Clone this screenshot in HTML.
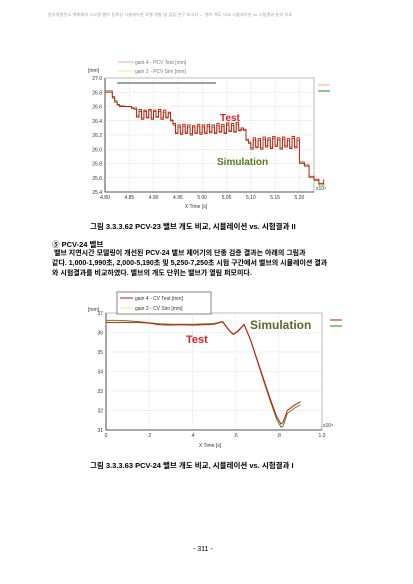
<!DOCTYPE html>
<html><head><meta charset="utf-8">
<style>
body{margin:0;background:#fff;width:413px;height:584px;overflow:hidden;position:relative;font-family:"Liberation Sans","Noto Sans CJK KR",sans-serif;}
.t{position:absolute;color:#000;white-space:nowrap;}
svg{position:absolute;left:0;top:0;}
</style></head><body>
<div class="t" style="left:48px;top:12px;font-size:4px;color:#999;letter-spacing:0.2px">원자력발전소 계측제어 시스템 밸브 동특성 시뮬레이션 모델 개발 및 검증 연구 보고서 — 밸브 계도 비교 시뮬레이션 vs 시험결과 분석 자료</div>
<div class="t" style="left:90px;top:221px;font-size:7.5px;font-weight:bold">그림 3.3.3.62 PCV-23 밸브 개도 비교, 시뮬레이션 vs. 시험결과 II</div>
<div class="t" style="left:52px;top:239px;font-size:7.5px;font-weight:bold">⑤ PCV-24 밸브</div>
<div class="t" style="left:52px;top:249px;font-size:7px;font-weight:bold;line-height:10px">&nbsp;밸브 지연시간 모델링이 개선된 PCV-24 밸브 제어기의 단종 검증 결과는 아래의 그림과<br>같다. 1,000-1,990초, 2,000-5,190초 및 5,250-7,250초 시험 구간에서 밸브의 시뮬레이션 결과<br>와 시험결과를 비교하였다. 밸브의 개도 단위는 밸브가 열림 퍼모미다.</div>
<div class="t" style="left:90px;top:460px;font-size:7.5px;font-weight:bold">그림 3.3.3.63 PCV-24 밸브 개도 비교, 시뮬레이션 vs. 시험결과 I</div>
<div class="t" style="left:193px;top:546px;font-size:7px">- 311 -</div>
<svg id="s" width="413" height="584" xmlns="http://www.w3.org/2000/svg" font-family="Liberation Sans, sans-serif"></svg>
<script>
// chart 1 data
const c1X=[4.800,4.812,4.815,4.820,4.825,4.830,4.840,4.855,
4.860,4.865,4.870,4.875,4.880,4.885,4.890,4.895,4.900,4.905,4.910,4.915,4.920,4.925,4.930,4.935,4.940,
4.945,4.950,4.955,4.960,4.965,4.970,4.975,4.980,4.985,4.990,4.995,5.000,5.005,5.010,5.015,5.020,5.025,5.030,5.035,5.040,5.045,5.050,5.055,5.060,5.065,5.070,5.075,5.080,
5.085,5.090,5.095,5.100,5.105,5.110,5.115,5.120,5.125,5.130,5.135,5.140,5.145,5.150,5.155,5.160,5.165,5.170,5.175,5.180,5.185,5.190,5.195,5.200,
5.210,5.220,5.230,5.240,5.250];
const c1Test=[26.80,26.80,26.72,26.66,26.62,26.60,26.60,26.58,
26.58,26.45,26.56,26.42,26.55,26.44,26.56,26.42,26.55,26.45,26.56,26.42,26.55,26.44,26.52,26.40,26.36,
26.22,26.34,26.21,26.35,26.22,26.34,26.20,26.33,26.22,26.35,26.21,26.34,26.22,26.35,26.23,26.34,26.22,26.36,26.24,26.35,26.22,26.37,26.25,26.36,26.24,26.38,26.26,26.30,
26.28,26.14,26.10,26.00,26.16,26.02,26.15,26.00,26.17,26.03,26.16,26.01,26.18,26.04,26.16,26.00,26.17,26.03,26.15,26.01,26.18,26.02,26.16,25.82,
25.78,25.62,25.58,25.52,25.58];
const c1Sim=[26.82,26.82,26.74,26.68,26.63,26.61,26.60,26.57,
26.56,26.47,26.53,26.44,26.53,26.45,26.54,26.44,26.53,26.46,26.53,26.44,26.52,26.45,26.50,26.41,26.34,
26.24,26.31,26.23,26.32,26.24,26.31,26.22,26.31,26.24,26.32,26.23,26.31,26.24,26.32,26.25,26.31,26.24,26.33,26.25,26.32,26.24,26.34,26.26,26.33,26.25,26.35,26.27,26.28,
26.26,26.12,26.08,26.02,26.13,26.04,26.12,26.02,26.14,26.05,26.13,26.03,26.15,26.06,26.13,26.02,26.14,26.05,26.12,26.03,26.15,26.04,26.12,25.80,
25.76,25.60,25.56,25.50,25.52];
const c1YTicks=[27.0,26.8,26.6,26.4,26.2,26.0,25.8,25.6,25.4];
const c1XTicks=[4.80,4.85,4.90,4.95,5.00,5.05,5.10,5.15,5.20];
// chart 2 data
const c2X=[0,0.05,0.10,0.15,0.20,0.25,0.30,0.35,0.40,0.45,0.50,0.54,0.57,0.59,0.61,0.64,0.67,0.70,0.73,0.76,0.79,0.81,0.82,0.84,0.87,0.90];
const c2Test=[36.52,36.52,36.52,36.52,36.48,36.40,36.38,36.40,36.38,36.40,36.42,36.55,36.10,35.90,36.05,36.40,35.60,34.60,33.60,32.60,31.70,31.30,31.40,32.00,32.25,32.45];
const c2Sim=[36.62,36.62,36.60,36.56,36.50,36.45,36.42,36.42,36.42,36.44,36.46,36.57,36.12,35.92,36.08,36.42,35.58,34.55,33.50,32.50,31.55,31.15,31.20,31.85,32.10,32.30];
const c2YTicks=[37,36,35,34,33,32,31];
const c2XTicks=[0,0.2,0.4,0.6,0.8,1.0];
const c2XLabels=["0",".2",".4",".6",".8","1.0"];

const svg=document.getElementById('s');
const NS='http://www.w3.org/2000/svg';
function mk(tag,attrs){const e=document.createElementNS(NS,tag);for(const k in attrs)e.setAttribute(k,attrs[k]);svg.appendChild(e);return e;}

function chart(cfg){
  const {x0,x1,y0,y1,xmin,xmax,ymin,ymax}=cfg;
  const sx=v=>x0+(v-xmin)/(xmax-xmin)*(x1-x0);
  const sy=v=>y1-(v-ymin)/(ymax-ymin)*(y1-y0);
  const frame=mk('rect',{x:x0,y:y0,width:x1-x0,height:y1-y0,fill:'#fff',stroke:'#888','stroke-width':0.6});
  
  
  cfg.yt.forEach(v=>{
    const g=mk('line',{x1:x0,x2:x1,y1:sy(v),y2:sy(v),stroke:'#ccc','stroke-width':0.5,'stroke-dasharray':'1,1'});
    
    
    const t=mk('text',{x:x0-3,y:sy(v)+2,'font-size':5,'text-anchor':'end',fill:'#333'});
    t.textContent=cfg.yl?cfg.yl(v):v.toFixed(1);
    
    
  });
  cfg.xt.forEach((v,i)=>{
    const g=mk('line',{x1:sx(v),x2:sx(v),y1:y0,y2:y1,stroke:'#ccc','stroke-width':0.5,'stroke-dasharray':'1,1'});
    
    
    const t=mk('text',{x:sx(v),y:y1+7,'font-size':5,'text-anchor':'middle',fill:'#333'});
    t.textContent=cfg.xlab?cfg.xlab[i]:v.toFixed(2);
    
    
  });
  const ax=mk('path',{d:`M${x0},${y0}V${y1}H${x1}`,stroke:'#333','stroke-width':0.8,fill:'none'});
  
  
  const series=[[cfg.sim,'#5a8a1a','sim'],[cfg.test,'#d01010','test']];
  series.forEach(([ys,col,nm])=>{
    let d='';
    cfg.x.forEach((xv,i)=>{
      if(i===0)d+=`M${sx(xv).toFixed(1)},${sy(ys[i]).toFixed(1)}`;
      else if(cfg.step)d+=`H${sx(xv).toFixed(1)}V${sy(ys[i]).toFixed(1)}`;
      else d+=`L${sx(xv).toFixed(1)},${sy(ys[i]).toFixed(1)}`;
    });
    const p=mk('path',{d:d,stroke:col,'stroke-width':cfg.step?0.9:1,fill:'none'});
    
    
  });
}
chart({p:'chart1',x0:105,x1:314,y0:78,y1:192,xmin:4.80,xmax:5.23,ymin:25.4,ymax:27.0,x:c1X,test:c1Test,sim:c1Sim,yt:c1YTicks,xt:c1XTicks,step:true});
chart({p:'chart2',x0:106,x1:322,y0:313,y1:430,xmin:0,xmax:1.0,ymin:31,ymax:37,x:c2X,test:c2Test,sim:c2Sim,yt:c2YTicks,xt:c2XTicks,xlab:c2XLabels,yl:v=>String(v),step:false});

function txt(x,y,s,size,col,name,w,anchor){const t=mk('text',{x:x,y:y,'font-size':size,fill:col,'font-weight':w||'normal','text-anchor':anchor||'start'});t.textContent=s;return t;}
// chart1 extras
txt(88,72,"[mm]",5,'#333','chart1-y-unit');
txt(196,208,"X Time [s]",5,'#333','chart1-x-axis-title',null,'middle');
txt(316,190,"x10³",5,'#333','chart1-x-multiplier');
txt(220,121,"Test",10,'#e02020','chart1-test-annotation','bold');
txt(217,165,"Simulation",10,'#5a7a1a','chart1-simulation-annotation','bold');
let l=mk('line',{x1:118,x2:134,y1:62,y2:62,stroke:'#f4a0a0','stroke-width':1});
l=mk('line',{x1:118,x2:134,y1:71,y2:71,stroke:'#e8f080','stroke-width':1});
txt(135,64,"gain 4 - PCV Test [mm]",5,'#777','chart1-legend-test');
txt(135,73,"gain 2 - PCV Sim [mm]",5,'#777','chart1-legend-sim');
l=mk('line',{x1:117,x2:216,y1:83,y2:83,stroke:'#000','stroke-width':0.8});
l=mk('line',{x1:318,x2:330,y1:85,y2:85,stroke:'#f4a0a0','stroke-width':1});
l=mk('line',{x1:318,x2:330,y1:91,y2:91,stroke:'#3a7a1a','stroke-width':1});
// chart2 extras
txt(88,311,"[mm]",5,'#333','chart2-y-unit');
txt(210,447,"X Time [s]",5,'#333','chart2-x-axis-title',null,'middle');
txt(323,427,"x10⁴",5,'#333','chart2-x-multiplier');
txt(186,343,"Test",11,'#e02020','chart2-test-annotation','bold');
txt(250,329,"Simulation",12,'#5a6a2a','chart2-simulation-annotation','bold');
const lb=mk('rect',{x:117,y:292,width:94,height:22,fill:'#fff',stroke:'#333','stroke-width':0.6});
l=mk('line',{x1:120,x2:133,y1:298,y2:298,stroke:'#d01010','stroke-width':1});
l=mk('line',{x1:120,x2:133,y1:308,y2:308,stroke:'#e8f080','stroke-width':1});
txt(135,300,"gain 4 - CV Test [mm]",5,'#333','chart2-legend-test');
txt(135,310,"gain 2 - CV Sim [mm]",5,'#333','chart2-legend-sim');
l=mk('line',{x1:330,x2:342,y1:320,y2:320,stroke:'#d01010','stroke-width':1});
l=mk('line',{x1:330,x2:342,y1:326,y2:326,stroke:'#3a7a1a','stroke-width':1});
</script>
</body></html>
